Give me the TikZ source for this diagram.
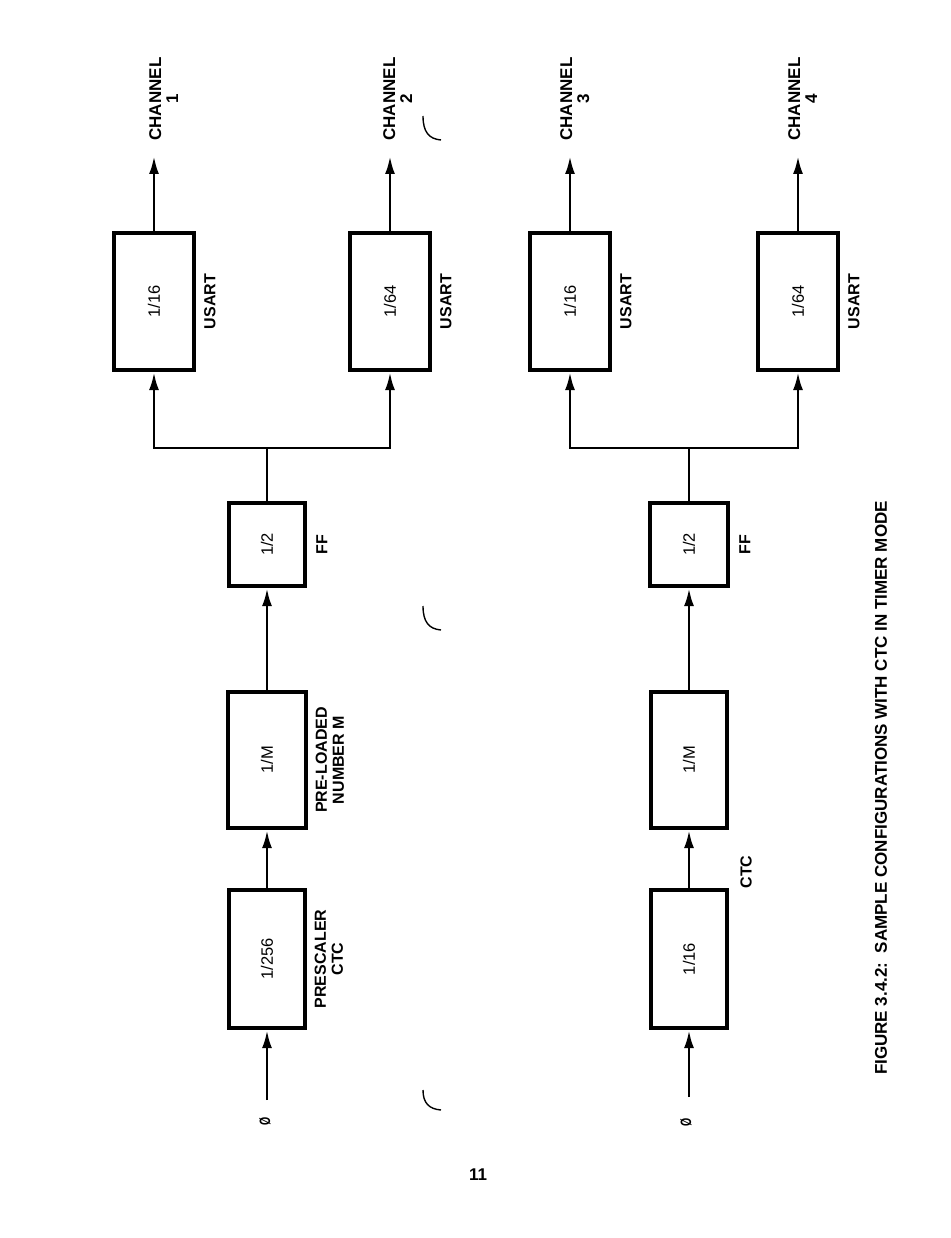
\documentclass[tikz,border=0pt]{standalone}
\usepackage{fontspec}
\setmainfont{Liberation Sans}
\usetikzlibrary{arrows.meta}
\begin{document}
\begin{tikzpicture}[x=1pt,y=-1pt,
  blk/.style={draw,line width=4.2pt,inner sep=0pt,font=\fontsize{16.5}{18}\selectfont},
  lab/.style={font=\bfseries\fontsize{16}{18}\selectfont,inner sep=0pt},
  chlab/.style={font=\bfseries\fontsize{17}{18}\selectfont,inner sep=0pt},
  conn/.style={line width=2.8pt},
  arr/.style={line width=2.8pt,-{Latex[length=18pt,width=10pt]}},
  phi/.style={font=\bfseries\fontsize{15}{15}\selectfont,inner sep=0pt},
  scanmark/.style={line width=1.4pt}]
\useasboundingbox (0,0) rectangle (950,1238);
% ---------- row 1 ----------
\node[phi] (p1) at (265,1121) {\rotatebox{90}{\scalebox{0.7}[1]{Ø}}};
\coordinate (s1) at (267,1100);
\node[blk,minimum width=76pt,minimum height=138pt] (b1) at (267,959) {\rotatebox{90}{1/256}};
\node[blk,minimum width=78pt,minimum height=136pt] (m1) at (267,760) {\rotatebox{90}{1/M}};
\node[blk,minimum width=76pt,minimum height=83pt] (f1) at (267,544.5) {\rotatebox{90}{1/2}};
\coordinate (j1) at (267,448);
\node[blk,minimum width=80pt,minimum height=137pt] (u1) at (154,301.5) {\rotatebox{90}{1/16}};
\node[blk,minimum width=80pt,minimum height=137pt] (u2) at (390,301.5) {\rotatebox{90}{1/64}};
\coordinate (o1) at (154,156);
\coordinate (o2) at (390,156);
\node[lab,anchor=west] (l1) at ([xshift=6pt]b1.east) {\rotatebox{90}{\begin{tabular}{@{}c@{}}PRESCALER\\[-1pt]CTC\end{tabular}}};
\node[lab,anchor=west] (l2) at ([xshift=6pt]m1.east) {\rotatebox{90}{\begin{tabular}{@{}c@{}}PRE-LOADED\\[-1pt]NUMBER M\end{tabular}}};
\node[lab,anchor=west] (l3) at ([xshift=9pt]f1.east) {\rotatebox{90}{FF}};
\node[lab,anchor=west] (l4) at ([xshift=8pt]u1.east) {\rotatebox{90}{USART}};
\node[lab,anchor=west] (l5) at ([xshift=8pt]u2.east) {\rotatebox{90}{USART}};
\node[chlab] (c1) at (166,99) {\rotatebox{90}{\begin{tabular}{@{}c@{}}CHANNEL\\[-1pt]1\end{tabular}}};
\node[chlab] (c2) at (400,99) {\rotatebox{90}{\begin{tabular}{@{}c@{}}CHANNEL\\[-1pt]2\end{tabular}}};
\draw[arr] (s1) -- (b1.south);
\draw[arr] (b1.north) -- (m1.south);
\draw[arr] (m1.north) -- (f1.south);
\draw[conn] (f1.north) -- (j1);
\draw[arr] (j1) -| (u1.south);
\draw[arr] (j1) -| (u2.south);
\draw[arr] (u1.north) -- (o1);
\draw[arr] (u2.north) -- (o2);
% ---------- row 2 ----------
\node[phi] (p2) at (686,1122) {\rotatebox{90}{\scalebox{0.7}[1]{Ø}}};
\coordinate (s2) at (689,1097);
\node[blk,minimum width=76pt,minimum height=138pt] (b2) at (689,959) {\rotatebox{90}{1/16}};
\node[blk,minimum width=76pt,minimum height=136pt] (m2) at (689,760) {\rotatebox{90}{1/M}};
\node[blk,minimum width=78pt,minimum height=83pt] (f2) at (689,544.5) {\rotatebox{90}{1/2}};
\coordinate (j2) at (689,448);
\node[blk,minimum width=80pt,minimum height=137pt] (u3) at (570,301.5) {\rotatebox{90}{1/16}};
\node[blk,minimum width=80pt,minimum height=137pt] (u4) at (798,301.5) {\rotatebox{90}{1/64}};
\coordinate (o3) at (570,156);
\coordinate (o4) at (798,156);
\node[lab] (l6) at (746,872) {\rotatebox{90}{CTC}};
\node[lab,anchor=west] (l7) at ([xshift=9pt]f2.east) {\rotatebox{90}{FF}};
\node[lab,anchor=west] (l8) at ([xshift=8pt]u3.east) {\rotatebox{90}{USART}};
\node[lab,anchor=west] (l9) at ([xshift=8pt]u4.east) {\rotatebox{90}{USART}};
\node[chlab] (c3) at (577,99) {\rotatebox{90}{\begin{tabular}{@{}c@{}}CHANNEL\\[-1pt]3\end{tabular}}};
\node[chlab] (c4) at (805,99) {\rotatebox{90}{\begin{tabular}{@{}c@{}}CHANNEL\\[-1pt]4\end{tabular}}};
\draw[arr] (s2) -- (b2.south);
\draw[arr] (b2.north) -- (m2.south);
\draw[arr] (m2.north) -- (f2.south);
\draw[conn] (f2.north) -- (j2);
\draw[arr] (j2) -| (u3.south);
\draw[arr] (j2) -| (u4.south);
\draw[arr] (u3.north) -- (o3);
\draw[arr] (u4.north) -- (o4);
% ---------- caption and page number ----------
\node[font=\bfseries\fontsize{17}{17}\selectfont,inner sep=0pt] (cap) at (881,788) {\rotatebox{90}{FIGURE 3.4.2:\ \ SAMPLE CONFIGURATIONS WITH CTC IN TIMER MODE}};
\node[font=\bfseries\fontsize{17}{17}\selectfont,inner sep=0pt] (pg) at (478,1175) {11};
% ---------- scan marks ----------
\draw[scanmark] (423,116) .. controls (423,132) and (429,139) .. (441,140);
\draw[scanmark] (423,606) .. controls (423,622) and (429,629) .. (441,630);
\draw[scanmark] (423,1090) .. controls (423,1103) and (429,1109) .. (441,1110);
\end{tikzpicture}
\end{document}
